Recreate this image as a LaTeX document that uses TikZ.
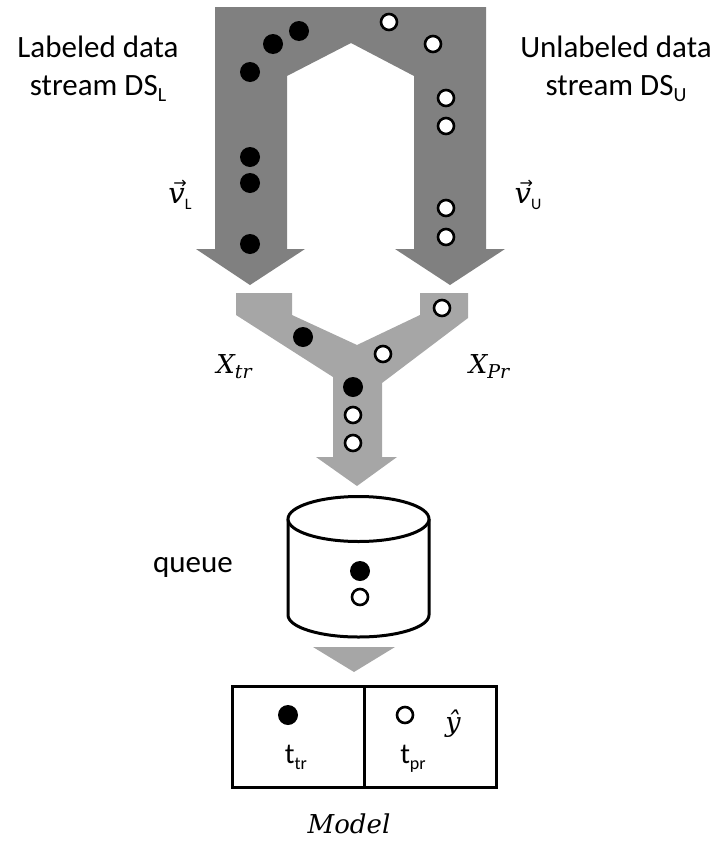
\documentclass[tikz,border=0pt]{standalone}
\usepackage{fontspec}
\setmainfont{Carlito}
\newfontfamily\serifit{DejaVu Serif Italic}
\newfontfamily\arrowfont{DejaVu Sans}
% #1 size, #2 drop below the baseline (pt), #3 text (current family kept)
\newcommand\lowsub[3]{\raisebox{-#2pt}{\fontsize{#1}{#1}\selectfont #3}}
% italic v with a small arrow above it
\newcommand\vecv{\makebox[0pt][l]{\hspace{5pt}\raisebox{15pt}{\fontsize{16}{16}\selectfont\arrowfont →}}{\serifit v}}
\begin{document}
\begin{tikzpicture}[x=1pt,y=-1pt,
  darkflow/.style={fill=black!50, draw=none},
  lightflow/.style={fill=black!35, draw=none},
  bdot/.style={circle, fill=black, draw=none, inner sep=0pt, minimum size=20pt},
  wdot/.style={circle, fill=white, draw=black, line width=2.6pt, inner sep=0pt, minimum size=16pt},
  lbl/.style={font=\fontsize{31}{38}\selectfont, inner sep=0pt, anchor=base},
  tlbl/.style={font=\fontsize{29}{32}\selectfont, inner sep=0pt, anchor=base},
  vlbl/.style={font=\fontsize{29}{32}\selectfont, inner sep=0pt, anchor=base},
  mlbl/.style={font=\fontsize{26}{28}\selectfont\serifit, inner sep=0pt, anchor=base},
  cell/.style={draw=black, line width=3pt, minimum width=132pt, minimum height=101pt, inner sep=0pt},
  cyl/.style={draw=black, line width=3pt}]
\useasboundingbox (0,0) rectangle (717,846);

% two incoming streams merged into one bent band
\fill[darkflow] (215,7) -- (486,7) -- (486,249) -- (505,249) -- (450,285) -- (395,249)
  -- (414,249) -- (414,76) -- (351,43) -- (287,76) -- (287,249) -- (305,249)
  -- (250,285) -- (196,249) -- (215,249) -- cycle;

% Y-shaped merge into the queue
\fill[lightflow] (236,293) -- (292,293) -- (292,315) -- (357,345) -- (420,315)
  -- (420,293) -- (468,293) -- (468,318) -- (382,383) -- (382,457) -- (397,457)
  -- (357,486) -- (316,457) -- (333,457) -- (333,377) -- (236,315) -- cycle;

% arrow from queue to model
\fill[lightflow] (313,647) -- (395,647) -- (354,672) -- cycle;

% labeled samples
\node[bdot] (l1) at (299,31) {};
\node[bdot] (l2) at (273,44) {};
\node[bdot] (l3) at (250,72) {};
\node[bdot] (l4) at (250,157) {};
\node[bdot] (l5) at (250,183) {};
\node[bdot] (l6) at (250,244) {};

% unlabeled samples
\node[wdot] (u1) at (389,22) {};
\node[wdot] (u2) at (433,44) {};
\node[wdot] (u3) at (446,98) {};
\node[wdot] (u4) at (446,126) {};
\node[wdot] (u5) at (446,208) {};
\node[wdot] (u6) at (446,237) {};

% samples in the merge
\node[bdot] (m1) at (303,337) {};
\node[wdot] (m2) at (383,354) {};
\node[wdot] (m3) at (442,308) {};
\node[bdot] (m4) at (353,387) {};
\node[wdot] (m5) at (353,415) {};
\node[wdot] (m6) at (353,443) {};

% queue cylinder
\fill[white] (288,519) rectangle (429,615);
\fill[white] (358.5,615) ellipse[x radius=70.5pt, y radius=22pt];
\draw[cyl] (288,519) -- (288,615) arc[start angle=180, end angle=360, x radius=70.5pt, y radius=22pt] -- (429,519);
\draw[cyl, fill=white] (358.5,519) ellipse[x radius=70.5pt, y radius=22.5pt];
\coordinate (queue) at (358.5,567);
\node[bdot] (q1) at (360,571) {};
\node[wdot] (q2) at (360,597) {};

% model
\node[cell] (ttr) at (298,736.5) {};
\node[cell] (tpr) at (430.5,736.5) {};
\node[bdot] (s1) at (288,715) {};
\node[wdot] (s2) at (405,715) {};

% labels
\node[lbl] (lab1) at (98,57) {Labeled data};
\node[lbl] (lab2) at (98,95) {stream DS\lowsub{20}{6}{L}};
\node[lbl] (unl1) at (616,57) {Unlabeled data};
\node[lbl] (unl2) at (616,95) {stream DS\lowsub{20}{6}{U}};
\node[vlbl] (vl) at (180,203) {\vecv\lowsub{16}{6}{L}};
\node[vlbl] (vu) at (528,203) {\vecv\lowsub{16}{6}{U}};
\node[mlbl] (xtr) at (234,373) {X\lowsub{19}{5}{tr}};
\node[mlbl] (xpr) at (489,373) {X\lowsub{19}{5}{Pr}};
\node[lbl] (qlab) at (193,572) {queue};
\node[tlbl] (tt) at (296,763) {t\lowsub{18}{6}{tr}};
\node[tlbl] (tp) at (413,763) {t\lowsub{18}{6}{pr}};
\node[mlbl, font=\fontsize{27}{29}\selectfont\serifit] (yh) at (453,731) {ŷ};
\node[mlbl] (model) at (349,833) {Model};
\end{tikzpicture}
\end{document}
